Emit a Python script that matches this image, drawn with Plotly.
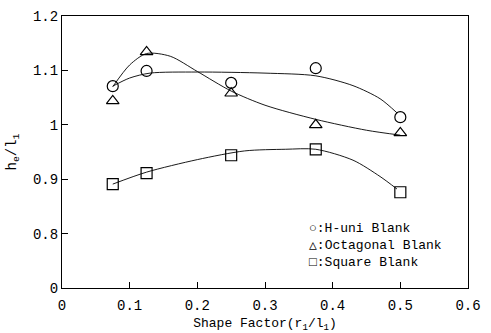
import plotly.graph_objects as go

# Measured data points
shape_factor = [0.075, 0.125, 0.25, 0.375, 0.5]
h_uni = [1.071, 1.099, 1.077, 1.104, 1.014]
octagonal = [1.044, 1.134, 1.058, 1.000, 0.985]
square = [0.891, 0.911, 0.944, 0.955, 0.876]

# Hand-drawn fit curves (knots)
h_uni_fit_x = [0.075, 0.1, 0.13, 0.2, 0.3, 0.375, 0.43, 0.47, 0.495]
h_uni_fit_y = [1.071, 1.086, 1.095, 1.097, 1.095, 1.090, 1.072, 1.048, 1.022]
oct_fit_x = [0.075, 0.1, 0.125, 0.16, 0.2, 0.25, 0.3, 0.375, 0.45, 0.5]
oct_fit_y = [1.070, 1.110, 1.131, 1.126, 1.098, 1.062, 1.036, 1.010, 0.990, 0.981]
sq_fit_x = [0.075, 0.125, 0.2, 0.27, 0.33, 0.375, 0.43, 0.47, 0.495]
sq_fit_y = [0.891, 0.913, 0.936, 0.952, 0.955, 0.955, 0.935, 0.905, 0.882]

# Axis ticks (broken axis: bottom tick labelled 0)
y_tickvals = [0.7, 0.8, 0.9, 1.0, 1.1, 1.2]
y_ticktext = ["0", "0.8", "0.9", "1", "1.1", "1.2"]
x_tickvals = [0, 0.1, 0.2, 0.3, 0.4, 0.5, 0.6]
x_ticktext = ["0", "0.1", "0.2", "0.3", "0.4", "0.5", "0.6"]

legend_lines = ["○:H-uni Blank", "△:Octagonal Blank", "□:Square Blank"]
symbols = ["circle-open", "triangle-up-open", "square-open"]

fig = go.Figure()
for fx, fy in [(h_uni_fit_x, h_uni_fit_y), (oct_fit_x, oct_fit_y), (sq_fit_x, sq_fit_y)]:
    fig.add_trace(go.Scatter(x=fx, y=fy, mode="lines",
                             line=dict(color="black", width=0.9, shape="spline", smoothing=0.8),
                             showlegend=False, hoverinfo="skip"))
for ys, sym in zip([h_uni, octagonal, square], symbols):
    fig.add_trace(go.Scatter(x=shape_factor, y=ys, mode="markers", showlegend=False,
                             marker=dict(symbol=sym, size=11, color="black",
                                         line=dict(width=1.2, color="black"))))

fig.add_annotation(xref="paper", yref="paper", x=0.607, y=0.158,
                   xanchor="left", yanchor="middle", showarrow=False,
                   text="<br>".join(legend_lines), align="left", borderpad=0,
                   font=dict(family="Liberation Mono, DejaVu Sans Mono", size=13, color="black"))

font_mono = "Liberation Mono"
fig.update_layout(
    width=491, height=333,
    margin=dict(l=62, r=23, t=16, b=45),
    paper_bgcolor="white", plot_bgcolor="white",
    font=dict(family=font_mono, size=14, color="black"),
    showlegend=False,
    xaxis=dict(range=[0, 0.6], tickvals=x_tickvals, ticktext=x_ticktext, automargin=False,
               ticks="inside", ticklen=6, tickcolor="black", showgrid=False, zeroline=False,
               showline=True, linecolor="black", linewidth=1.2, mirror=True,
               ticklabelstandoff=4,
               title=dict(text="Shape Factor(r<sub>1</sub>/l<sub>1</sub>)", standoff=8,
                          font=dict(family=font_mono, size=13))),
    yaxis=dict(range=[0.7, 1.2], tickvals=y_tickvals, ticktext=y_ticktext, automargin=False,
               ticks="inside", ticklen=6, tickcolor="black", showgrid=False, zeroline=False,
               showline=True, linecolor="black", linewidth=1.2, mirror=True,
               title=dict(text="h<sub>e</sub>/l<sub>1</sub>", standoff=12,
                          font=dict(family=font_mono, size=14))),
)
fig.write_html("out.html", config={"displayModeBar": False},
               post_script="document.body.style.margin='0';")
